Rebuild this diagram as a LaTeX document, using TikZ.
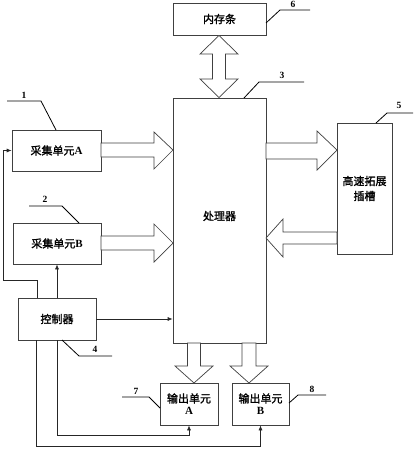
\documentclass[tikz,border=0pt]{standalone}
\usepackage{fontspec}
\setmainfont{Liberation Serif}
\newfontfamily\cjk[AutoFakeBold=1.6]{Noto Sans CJK SC}
\newcommand{\lat}[1]{{\rmfamily\bfseries #1}}
\usetikzlibrary{arrows.meta}
\begin{document}
\begin{tikzpicture}[x=1pt,y=-1pt,
  line width=0.7pt, draw=black!85,
  box/.style={draw=black!75, line width=0.7pt, rectangle, inner sep=0pt, fill=white,
    font=\cjk\bfseries\fontsize{11}{13}\selectfont, align=center},
  barrow/.style={draw=black!75, line width=0.7pt, fill=white, line join=miter},
  lead/.style={draw=black, line width=0.8pt},
  num/.style={font=\rmfamily\bfseries\fontsize{9.5}{10}\selectfont, inner sep=0pt},
  tip/.style={-{Latex[length=5pt,width=4pt]}, draw=black!85, line width=0.7pt}]
\useasboundingbox (0,0) rectangle (417,450);
% boxes
\node[box, minimum width=93pt, minimum height=32pt] (mem) at (219.5,19) {内存条};
\node[box, minimum width=93pt, minimum height=245pt] (proc) at (219.5,220.5) {};
\node[font=\cjk\bfseries\fontsize{11}{13}\selectfont] (proct) at (219.5,216) {处理器};
\node[box, minimum width=89pt, minimum height=41pt] (acqA) at (56.5,150.5) {采集单元\lat{A}};
\node[box, minimum width=88pt, minimum height=41pt] (acqB) at (57,243.5) {采集单元\lat{B}};
\node[box, minimum width=78pt, minimum height=42pt] (ctrl) at (57,319) {控制器};
\node[box, minimum width=58pt, minimum height=42pt] (outA) at (189,404) {输出单元\\[-1pt]\lat{A}};
\node[box, minimum width=57pt, minimum height=42pt] (outB) at (260.5,404) {输出单元\\[-1pt]\lat{B}};
\node[box, minimum width=55pt, minimum height=131pt] (slot) at (364.5,188.5) {高速拓展\\[2pt]插槽};
% block arrows
\draw[barrow] (101,143) -- (154,143) -- (154,132) -- (173,150) -- (154,169) -- (154,157) -- (101,157) -- cycle;
\draw[barrow] (101,236) -- (154,236) -- (154,224) -- (173,243) -- (154,262) -- (154,250) -- (101,250) -- cycle;
\draw[barrow] (266,143) -- (317,143) -- (317,131) -- (337,150) -- (317,170) -- (317,159) -- (266,159) -- cycle;
\draw[barrow] (337,232) -- (283,232) -- (283,219) -- (266,238) -- (283,257) -- (283,244) -- (337,244) -- cycle;
\draw[barrow] (219,35.5) -- (238,54) -- (225.5,54) -- (225.5,79) -- (238,79) -- (219,97.5) -- (200,79) -- (212.5,79) -- (212.5,54) -- (200,54) -- cycle;
\draw[barrow] (187.5,343) -- (187.5,366) -- (175,366) -- (194,383) -- (213,366) -- (200.5,366) -- (200.5,343) -- cycle;
\draw[barrow] (242,343) -- (242,366) -- (230,366) -- (249,383) -- (268,366) -- (256,366) -- (256,343) -- cycle;
% control connectors
\draw[tip] (ctrl.east) -- (ctrl.east -| proc.west);
\draw[tip] (ctrl.north) -- (acqB.south);
\coordinate (cA) at (3,280);
\draw[tip] ([xshift=-20pt]ctrl.north) |- (cA) |- (acqA.west);
\draw[tip] (ctrl.south) |- ([yshift=-10pt]outA.south) -- (outA.south);
\draw[tip] ([xshift=-21pt]ctrl.south) |- ([yshift=-21pt]outB.south) -- (outB.south);
% leaders
\coordinate (l1a) at (7,101); \coordinate (l1b) at (41,101);
\draw[lead] (l1a) -- (l1b) -- (56,130);
\node[num] (n1) at (24,95) {1};
\coordinate (l2a) at (29,206); \coordinate (l2b) at (62,206);
\draw[lead] (l2a) -- (l2b) -- (79,223);
\node[num] (n2) at (45,199) {2};
\coordinate (l3a) at (259,82); \coordinate (l3b) at (304,82);
\draw[lead] (244,98) -- (l3a) -- (l3b);
\node[num] (n3) at (282,75) {3};
\coordinate (l4a) at (79,356); \coordinate (l4b) at (112,356);
\draw[lead] (62,340) -- (l4a) -- (l4b);
\node[num] (n4) at (95,349) {4};
\coordinate (l5a) at (387,113); \coordinate (l5b) at (413,113);
\draw[lead] (376,123) -- (l5a) -- (l5b);
\node[num] (n5) at (399,105) {5};
\coordinate (l6a) at (280,10); \coordinate (l6b) at (310,10);
\draw[lead] (266,23) -- (l6a) -- (l6b);
\node[num] (n6) at (293,4) {6};
\coordinate (l7a) at (122,397); \coordinate (l7b) at (149,397);
\draw[lead] (l7a) -- (l7b) -- (160,408);
\node[num] (n7) at (136,391) {7};
\coordinate (l8a) at (298,395); \coordinate (l8b) at (326,395);
\draw[lead] (289,403) -- (l8a) -- (l8b);
\node[num] (n8) at (312,389) {8};
\end{tikzpicture}
\end{document}
